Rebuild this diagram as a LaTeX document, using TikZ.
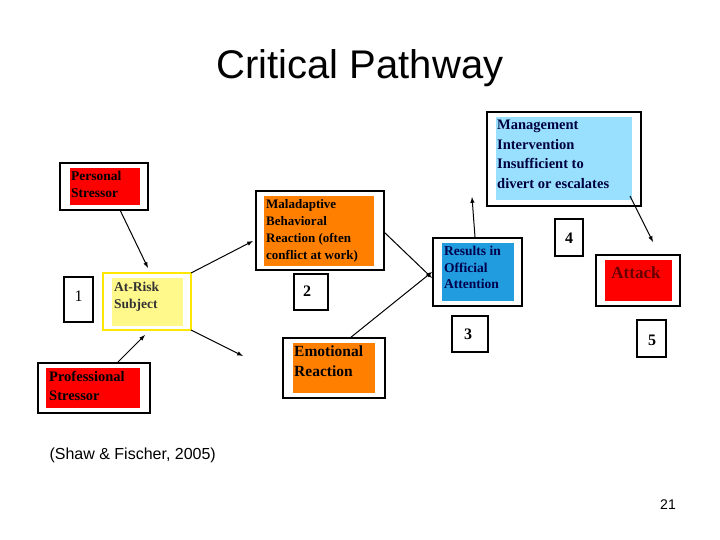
\documentclass[tikz,border=0pt]{standalone}
\usepackage{fontspec}
\setmainfont{Liberation Serif}
\newfontfamily\arialf{Liberation Sans}
\begin{document}
\begin{tikzpicture}[x=1pt,y=-1pt,
 frame/.style={draw=black,line width=1.6pt,fill=white},
 lab/.style={anchor=north west,align=left,font=\bfseries\fontsize{13.5}{16.5}\selectfont,inner sep=1pt},
 num/.style={font=\bfseries\fontsize{16}{18}\selectfont},
 arr/.style={-latex,line width=1pt}]
\useasboundingbox (0,0) rectangle (720,540);
\node[font=\arialf\fontsize{40}{44}\selectfont] (title) at (360,68) {Critical Pathway};
% Personal
\draw[frame] (60,163) rectangle (148,210);
\fill[red] (70,168) rectangle (140,205);
\node[lab] (ps) at (70,170) {Personal\\Stressor};
\coordinate (psb) at (120,210);
% Professional
\draw[frame] (38,363) rectangle (150,413);
\fill[red] (46,368) rectangle (140,408);
\node[lab,font=\bfseries\fontsize{14.5}{19}\selectfont] (pr) at (48,370) {Professional\\Stressor};
\coordinate (prt) at (118,362);
% 1
\draw[frame] (64,277) rectangle (93,322);
\node[num,font=\fontsize{16}{18}\selectfont] (n1) at (78.5,296) {1};
% At-risk
\draw[draw=yellow!90!orange,line width=1.6pt,fill=white] (103,273) rectangle (191,330);
\fill[yellow!45] (112,278) rectangle (183,326);
\node[lab,text=black!80] (ar) at (113,281) {At-Risk\\Subject};
\coordinate (ar1) at (191,273); \coordinate (ar2) at (191,330);
\coordinate (art) at (148,268); \coordinate (arb) at (145,335);
% Maladaptive
\draw[frame] (256,191) rectangle (384,270);
\fill[orange] (264,196) rectangle (374,266);
\node[lab,font=\bfseries\fontsize{13}{17}\selectfont] (ma) at (265,198) {Maladaptive\\Behavioral\\Reaction (often\\conflict at work)};
\coordinate (mal) at (253,241); \coordinate (mar) at (384,232);
% 2
\draw[frame] (294,274) rectangle (328,310);
\node[num] (n2) at (307,291) {2};
% Emotional
\draw[frame] (283,338) rectangle (385,398);
\fill[orange] (293,343) rectangle (375,393);
\node[lab,font=\bfseries\fontsize{15.5}{20}\selectfont] (em) at (293,345) {Emotional\\Reaction};
\coordinate (emt) at (350,338); \coordinate (eml) at (243,356);
% Results
\draw[frame] (433,238) rectangle (522,306);
\fill[cyan!80!blue!90] (442,243) rectangle (514,301);
\node[lab,text=black!70!blue] (re) at (443,245) {Results in\\Official\\Attention};
\coordinate (rel1) at (432,278); \coordinate (rel2) at (432,272); \coordinate (ret) at (475,237);
% 3
\draw[frame] (452,316) rectangle (488,352);
\node[num] (n3) at (468,334) {3};
% Management
\draw[frame] (487,112) rectangle (641,206);
\fill[blue!30!cyan!40] (496,117) rectangle (632,200);
\node[lab,font=\bfseries\fontsize{14.5}{19.5}\selectfont,text=black!75!blue] (mg) at (496,119) {Management\\Intervention\\Insufficient to\\divert or escalates};
\coordinate (mgb) at (472,197); \coordinate (mgr) at (630,196);
% 4
\draw[frame] (555,219) rectangle (583,256);
\node[num] (n4) at (569,238) {4};
% Attack
\draw[frame] (596,255) rectangle (680,306);
\fill[red] (605,260) rectangle (672,301);
\node[font=\bfseries\fontsize{17}{20}\selectfont,text=black!60!red] (at) at (636,273) {Attack};
\coordinate (att) at (653,242);
% 5
\draw[frame] (637,320) rectangle (666,357);
\node[num] (n5) at (652,340) {5};
% arrows
\draw[arr] (psb) -- (art);
\draw[arr] (prt) -- (arb);
\draw[arr] (ar1) -- (mal);
\draw[arr] (ar2) -- (eml);
\draw[arr] (mar) -- (rel1);
\draw[arr] (emt) -- (rel2);
\draw[arr] (ret) -- (mgb);
\draw[arr] (mgr) -- (att);
\node[anchor=west,font=\arialf\fontsize{16}{18}\selectfont] (cite) at (46,455) {(Shaw \& Fischer, 2005)};
\node[font=\arialf\fontsize{14}{16}\selectfont] (pg) at (668,505) {21};
\end{tikzpicture}
\end{document}
